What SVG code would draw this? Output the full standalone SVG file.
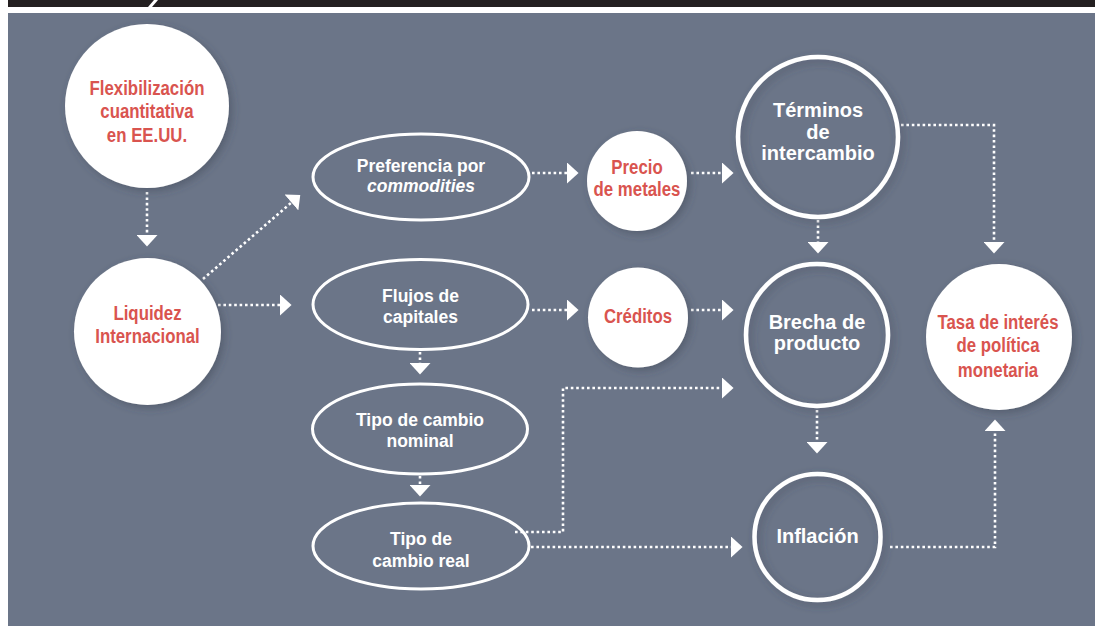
<svg xmlns="http://www.w3.org/2000/svg" width="1095" height="626" viewBox="0 0 1095 626">
<style>
.bg{fill:#6b7588}
.wc{fill:#ffffff;filter:url(#sh)}
.ring{fill:none;stroke:#ffffff;stroke-width:4.5;filter:url(#sh)}
.ell{fill:none;stroke:#ffffff;stroke-width:3}
.red{font-family:"Liberation Sans","DejaVu Sans",sans-serif;font-weight:bold;font-size:20.5px;fill:#d9544f;text-anchor:middle}
.wt{font-family:"Liberation Sans","DejaVu Sans",sans-serif;font-weight:bold;fill:#ffffff;text-anchor:middle}
.s17{font-size:17.5px}
.s20{font-size:20px}
.dotm{fill:none;stroke:#ffffff;stroke-width:2.6;stroke-dasharray:2.6 2.8;marker-end:url(#ah)}
</style>
<defs>
<marker id="ah" markerUnits="userSpaceOnUse" markerWidth="12" markerHeight="21" viewBox="0 0 11 20" refX="0" refY="10" orient="auto">
<path d="M0,0 L11,10 L0,20 Z" fill="#ffffff"/>
</marker>
<filter id="sh" x="-20%" y="-20%" width="140%" height="140%">
<feGaussianBlur in="SourceAlpha" stdDeviation="4"/>
<feOffset dx="3" dy="3" result="b"/>
<feFlood flood-color="#3a4250" flood-opacity="0.45"/>
<feComposite in2="b" operator="in"/>
<feMerge><feMergeNode/><feMergeNode in="SourceGraphic"/></feMerge>
</filter>
</defs>
<rect x="8" y="0" width="1087" height="7" fill="#231f20"/>
<polygon points="148,7 152,7 158,0 154,0" fill="#ffffff"/>
<rect class="bg" x="8" y="13" width="1087" height="613"/>

<g id="connectors">
<line class="dotm" x1="147" y1="192" x2="147" y2="235"/>
<line class="dotm" x1="203" y1="279" x2="291.5" y2="202.5"/>
<line class="dotm" x1="218" y1="305" x2="280" y2="305"/>
<line class="dotm" x1="532" y1="173" x2="567" y2="173"/>
<line class="dotm" x1="691" y1="173" x2="722" y2="173"/>
<line class="dotm" x1="532" y1="310" x2="567" y2="310"/>
<line class="dotm" x1="691" y1="310" x2="722" y2="310"/>
<line class="dotm" x1="818" y1="220" x2="818" y2="242"/>
<polyline class="dotm" points="901,125 994,125 994,242"/>
<line class="dotm" x1="420" y1="352" x2="420" y2="363"/>
<line class="dotm" x1="420" y1="476" x2="420" y2="485"/>
<polyline class="dotm" points="515,532 563,532 563,388 722,388"/>
<line class="dotm" x1="531" y1="547" x2="731" y2="547"/>
<line class="dotm" x1="817" y1="410" x2="817" y2="442"/>
<polyline class="dotm" points="890,547 995,547 995,431"/>
</g>

<g id="flexibilizacion">
<circle class="wc" cx="147" cy="106" r="82"/>
<g transform="translate(147 0) scale(0.82 1)">
<text class="red" x="0" y="95">Flexibilización</text>
<text class="red" x="0" y="118.5">cuantitativa</text>
<text class="red" x="0" y="142">en EE.UU.</text>
</g>
</g>
<g id="liquidez">
<circle class="wc" cx="147.5" cy="331.5" r="73.5"/>
<g transform="translate(147.5 0) scale(0.82 1)">
<text class="red" x="0" y="320">Liquidez</text>
<text class="red" x="0" y="343">Internacional</text>
</g>
</g>
<g id="preferencia">
<ellipse class="ell" cx="421" cy="177" rx="108" ry="43"/>
<text class="wt s17" x="421" y="172">Preferencia por</text>
<text class="wt s17" x="421" y="192" font-style="italic">commodities</text>
</g>
<g id="flujos">
<ellipse class="ell" cx="420.5" cy="304.5" rx="107.5" ry="45"/>
<text class="wt s17" x="420.5" y="302">Flujos de</text>
<text class="wt s17" x="420.5" y="323">capitales</text>
</g>
<g id="nominal">
<ellipse class="ell" cx="420" cy="429" rx="107.5" ry="45"/>
<text class="wt s17" x="420" y="426">Tipo de cambio</text>
<text class="wt s17" x="420" y="447">nominal</text>
</g>
<g id="real">
<ellipse class="ell" cx="421" cy="546" rx="108" ry="43"/>
<text class="wt s17" x="421" y="545">Tipo de</text>
<text class="wt s17" x="421" y="567">cambio real</text>
</g>
<g id="precio">
<circle class="wc" cx="637" cy="181" r="50"/>
<g transform="translate(637 0) scale(0.82 1)">
<text class="red" x="0" y="174">Precio</text>
<text class="red" x="0" y="196">de metales</text>
</g>
</g>
<g id="creditos">
<circle class="wc" cx="638" cy="317.5" r="50"/>
<g transform="translate(638 0) scale(0.82 1)">
<text class="red" x="0" y="323">Créditos</text>
</g>
</g>
<g id="terminos">
<circle class="ring" cx="818" cy="137" r="80"/>
<text class="wt s20" x="818" y="117">Términos</text>
<text class="wt s20" x="818" y="139">de</text>
<text class="wt s20" x="818" y="160">intercambio</text>
</g>
<g id="brecha">
<circle class="ring" cx="817" cy="335" r="71"/>
<text class="wt s20" x="817" y="329">Brecha de</text>
<text class="wt s20" x="817" y="350">producto</text>
</g>
<g id="inflacion">
<circle class="ring" cx="817.5" cy="537" r="63"/>
<text class="wt s20" x="817.5" y="543">Inflación</text>
</g>
<g id="tasa">
<circle class="wc" cx="999" cy="337" r="73"/>
<g transform="translate(998 0) scale(0.82 1)">
<text class="red" x="0" y="329">Tasa de interés</text>
<text class="red" x="0" y="352">de política</text>
<text class="red" x="0" y="377">monetaria</text>
</g>
</g>
</svg>
